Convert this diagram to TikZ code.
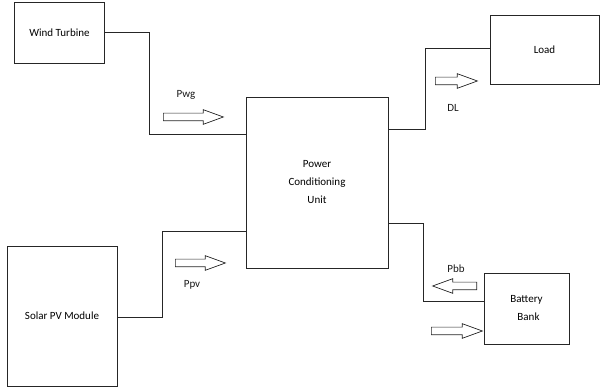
\documentclass[tikz,border=0pt]{standalone}
\usepackage{fontspec}
\setmainfont{Carlito}
\usetikzlibrary{shapes.arrows}
\begin{document}
\begin{tikzpicture}[x=1pt,y=-1pt,
  blk/.style={draw=black!85,line width=0.9pt,fill=white,inner sep=0pt,font=\fontsize{11}{18}\selectfont,align=center},
  wire/.style={draw=black!85,line width=0.9pt},
  flow/.style={single arrow,draw=black!85,line width=0.7pt,fill=white,inner xsep=0pt,inner ysep=3.5pt,
     single arrow head extend=3.5pt,single arrow tip angle=40,anchor=tail},
  lbl/.style={font=\fontsize{11}{13}\selectfont,text=black!90,inner sep=0pt}]
\useasboundingbox (0,0) rectangle (600,387);
% blocks
\node[blk,minimum width=90pt,minimum height=61pt] (wt) at (59.5,33) {Wind Turbine};
\node[blk,minimum width=110pt,minimum height=140pt] (pv) at (62,316) {Solar PV Module};
\node[blk,minimum width=142pt,minimum height=171pt] (pcu) at (317,182.5) {Power\\Conditioning\\Unit};
\node[blk,minimum width=109pt,minimum height=69pt] (load) at (544.5,49.5) {Load};
\node[blk,minimum width=85pt,minimum height=71pt] (bb) at (526.5,308.5) {Battery\\\hspace*{4pt}Bank};
% connectors
\coordinate (w1) at (149,32);
\coordinate (p1) at (162,317);
\coordinate (l1) at (425,129);
\coordinate (b1) at (423,223);
\draw[wire] (wt.east |- w1) -- (w1) |- (pcu.west |- 0,134);
\draw[wire] (pv.east |- p1) -- (p1) |- (pcu.west |- 0,231);
\draw[wire] (pcu.east |- l1) -- (l1) |- (load.west |- 0,48);
\draw[wire] (pcu.east |- b1) -- (b1) |- (bb.west |- 0,301);
% flow arrows
\node[flow,minimum height=60pt] (fwg) at (163,117) {};
\node[flow,minimum height=50pt] (fpv) at (175,263) {};
\node[flow,minimum height=42pt] (fdl) at (435,81) {};
\node[flow,minimum height=44pt,shape border rotate=180] (fbb) at (477,286) {};
\node[flow,minimum height=51pt] (fbi) at (431,331) {};
% labels
\node[lbl] (lwg) at (186,95) {Pwg};
\node[lbl] (lpv) at (192,285) {Ppv};
\node[lbl] (ldl) at (453,108) {DL};
\node[lbl] (lbb) at (456,269) {Pbb};
\end{tikzpicture}
\end{document}
